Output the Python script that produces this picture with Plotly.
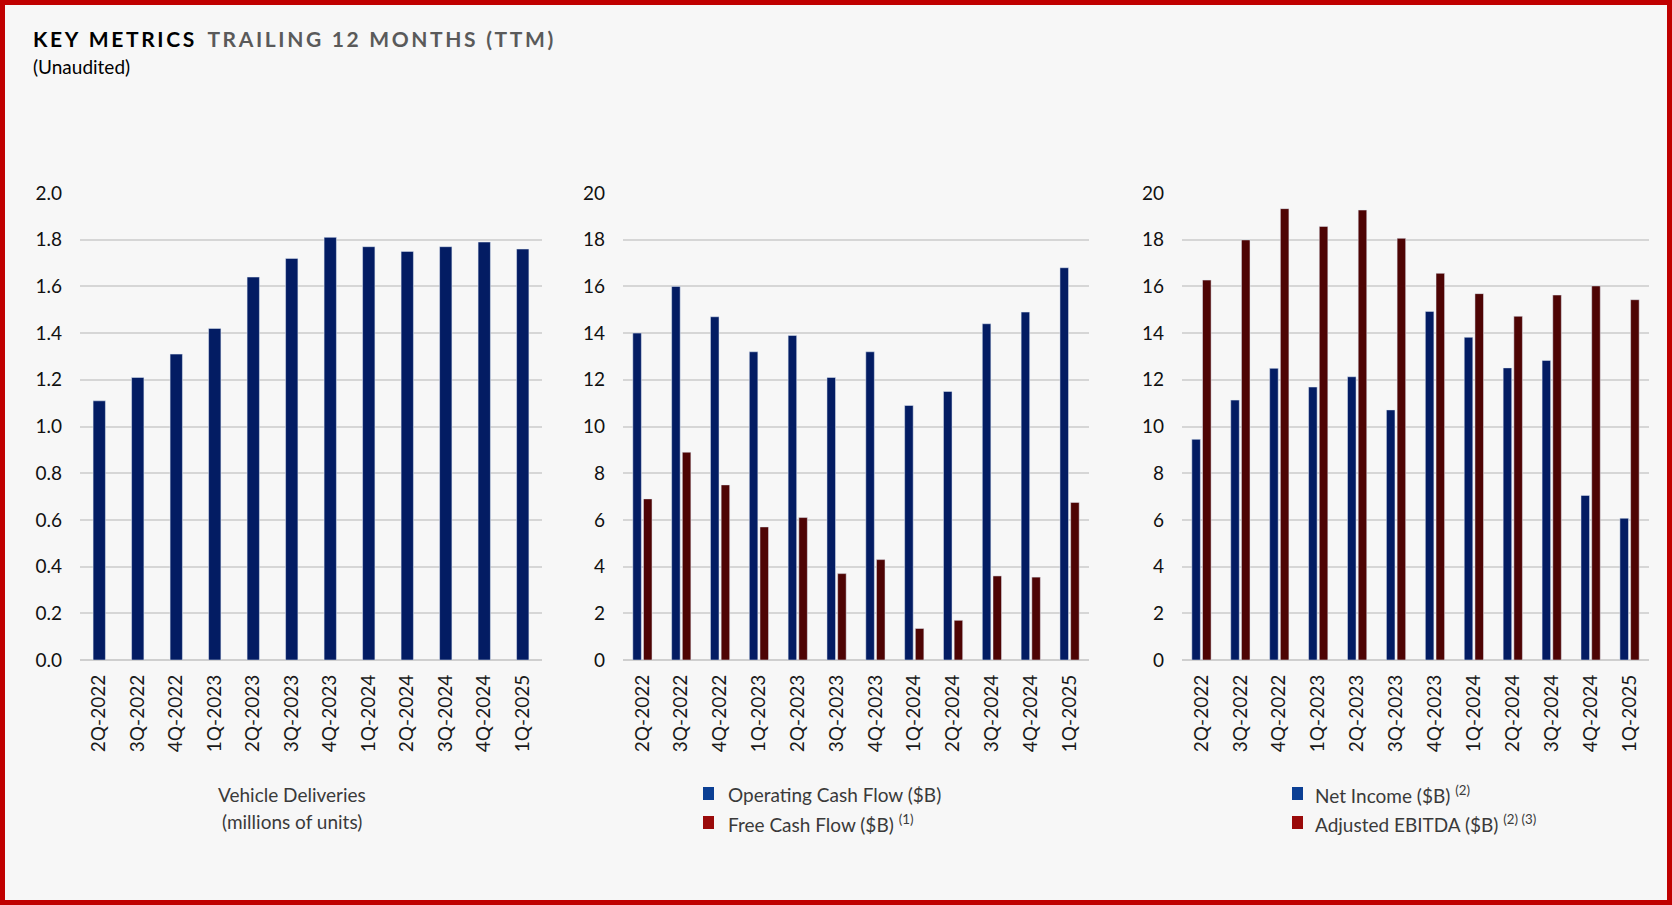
import plotly.graph_objects as go

W, H = 1672, 905

quarters = ["2Q-2022", "3Q-2022", "4Q-2022", "1Q-2023", "2Q-2023", "3Q-2023",
            "4Q-2023", "1Q-2024", "2Q-2024", "3Q-2024", "4Q-2024", "1Q-2025"]
deliveries = [1.11, 1.21, 1.31, 1.42, 1.64, 1.72, 1.81, 1.77, 1.75, 1.77, 1.79, 1.76]
operating_cf = [14.0, 16.0, 14.7, 13.2, 13.9, 12.1, 13.2, 10.9, 11.5, 14.4, 14.9, 16.8]
free_cf = [6.9, 8.9, 7.5, 5.7, 6.1, 3.7, 4.3, 1.35, 1.7, 3.6, 3.55, 6.75]
net_income = [9.45, 11.13, 12.49, 11.69, 12.13, 10.71, 14.93, 13.82, 12.51, 12.83, 7.05, 6.07]
adj_ebitda = [16.27, 17.99, 19.33, 18.57, 19.27, 18.06, 16.56, 15.69, 14.72, 15.63, 16.02, 15.43]

BLUE = "#031c63"
RED = "#4e0404"
LEG_BLUE = "#0b3f94"
LEG_RED = "#9a0a0a"
FONT = "Lato"

def px_x(v):
    return v / W

def px_y(v):
    return 1 - v / H

fig = go.Figure()
fig.add_trace(go.Bar(x=quarters, y=deliveries, marker_color=BLUE, width=0.32,
                     xaxis="x", yaxis="y", name="Vehicle Deliveries"))
fig.add_trace(go.Bar(x=quarters, y=operating_cf, marker_color=BLUE,
                     xaxis="x2", yaxis="y2", name="Operating Cash Flow ($B)"))
fig.add_trace(go.Bar(x=quarters, y=free_cf, marker_color=RED,
                     xaxis="x2", yaxis="y2", name="Free Cash Flow ($B)"))
fig.add_trace(go.Bar(x=quarters, y=net_income, marker_color=BLUE,
                     xaxis="x3", yaxis="y3", name="Net Income ($B)"))
fig.add_trace(go.Bar(x=quarters, y=adj_ebitda, marker_color=RED,
                     xaxis="x3", yaxis="y3", name="Adjusted EBITDA ($B)"))

ydom = [px_y(660), px_y(193)]
xdoms = [(80, 542), (623, 1089), (1182, 1649)]

common_x = dict(type="category", tickangle=-90, showgrid=False, showline=False,
                zeroline=False, ticks="", ticklabelstandoff=10,
                tickfont=dict(family=FONT, size=19, color="#1a1a1a"))
common_y = dict(showgrid=True, gridcolor="#d6d6d6", gridwidth=1.5, zeroline=True,
                zerolinecolor="#cfcfcf", zerolinewidth=2, showline=False, ticks="",
                ticklabelstandoff=17,
                tickfont=dict(family=FONT, size=19, color="#111111"))

layout = dict(
    autosize=True,
    margin=dict(l=0, r=0, t=0, b=0, autoexpand=False),
    paper_bgcolor="#F7F7F7", plot_bgcolor="#F7F7F7",
    showlegend=False, barmode="group", bargap=0.45, bargroupgap=0.2,
    font=dict(family=FONT),
)
for i, (a, b) in enumerate(xdoms):
    sx = "" if i == 0 else str(i + 1)
    layout["xaxis" + sx] = dict(common_x, domain=[px_x(a), px_x(b)], anchor="y" + sx)
    yd = dict(common_y, domain=ydom, anchor="x" + sx)
    if i == 0:
        yd.update(range=[0, 2.0], dtick=0.2, tickformat=".1f")
    else:
        yd.update(range=[0, 20], dtick=2)
    layout["yaxis" + sx] = yd
fig.update_layout(**layout)

def spaced(s, sep="\u2009"):
    return sep.join(list(s)).replace(sep + " " + sep, "\u2002")

title_html = ("<b>" + spaced("KEY METRICS") + "</b>\u2002\u2009"
              "<span style='color:#5a5a5a'><b>" + spaced("TRAILING 12 MONTHS (TTM)") + "</b></span>")

annotations = [
    dict(text=title_html, x=px_x(31), y=px_y(39), xanchor="left", yanchor="middle",
         font=dict(family=FONT, size=21, color="#000000")),
    dict(text="(Unaudited)", x=px_x(31), y=px_y(67), xanchor="left", yanchor="middle",
         font=dict(family=FONT, size=19, color="#000000")),
    dict(text="Vehicle Deliveries", x=px_x(292), y=px_y(794), xanchor="center", yanchor="middle",
         font=dict(family=FONT, size=19, color="#3a3a3a")),
    dict(text="(millions of units)", x=px_x(292), y=px_y(821), xanchor="center", yanchor="middle",
         font=dict(family=FONT, size=19, color="#3a3a3a")),
]
legend_items = [
    (703, 726, 794, LEG_BLUE, "Operating Cash Flow ($B)"),
    (703, 726, 823, LEG_RED, "Free Cash Flow ($B) <sup>(1)</sup>"),
    (1292, 1313, 794, LEG_BLUE, "Net Income ($B) <sup>(2)</sup>"),
    (1292, 1313, 823, LEG_RED, "Adjusted EBITDA ($B) <sup>(2) (3)</sup>"),
]
shapes = []
for sx, tx, cy, col, label in legend_items:
    shapes.append(dict(type="rect", xref="paper", yref="paper",
                       x0=px_x(sx), x1=px_x(sx + 11), y0=px_y(cy - 7), y1=px_y(cy + 6),
                       fillcolor=col, line=dict(width=0)))
    annotations.append(dict(text=label, x=px_x(tx), y=px_y(cy), xanchor="left", yanchor="middle",
                            font=dict(family=FONT, size=19, color="#3a3a3a")))
for a in annotations:
    a.update(xref="paper", yref="paper", showarrow=False)

shapes.append(dict(type="rect", xref="paper", yref="paper", x0=0, x1=1, y0=0, y1=1,
                   line=dict(color="#C00000", width=10), fillcolor="rgba(0,0,0,0)"))
fig.update_layout(annotations=annotations, shapes=shapes)

post = ("document.documentElement.style.margin='0';document.documentElement.style.padding='0';"
        "document.documentElement.style.overflow='hidden';"
        "document.body.style.margin='0';document.body.style.padding='0';"
        "document.body.style.overflow='hidden';"
        "var gd=document.getElementById('{plot_id}');"
        "gd.style.position='fixed';gd.style.left='0';gd.style.top='0';"
        "gd.style.width='100vw';gd.style.height='100vh';"
        "Plotly.Plots.resize(gd);")

fig.write_html("out.html", config={"displayModeBar": False, "responsive": True},
               default_width="100vw", default_height="100vh", post_script=post)
